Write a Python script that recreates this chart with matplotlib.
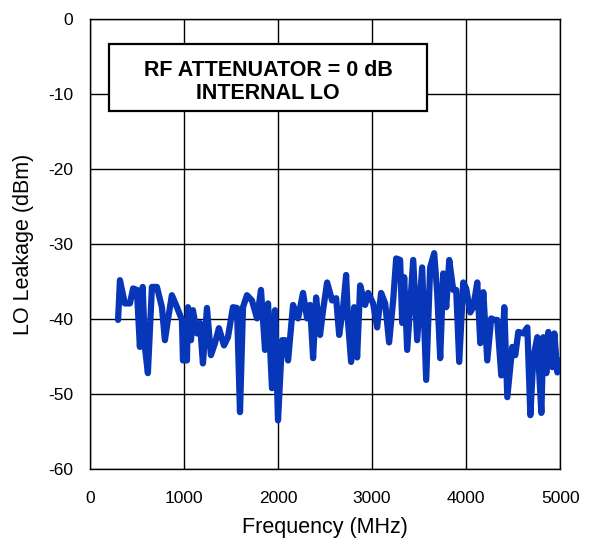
import matplotlib.pyplot as plt
from matplotlib.patches import Rectangle

plt.rcParams['font.family'] = ['Liberation Sans', 'DejaVu Sans']
plt.rcParams['axes.unicode_minus'] = False

# LO leakage trace
freq_mhz = [300, 320, 372, 426, 460, 500, 532, 562, 585, 617, 660, 713, 766, 798, 830,
            872, 926, 979, 990, 1032, 1043, 1075, 1096, 1138, 1170, 1202, 1245, 1287,
            1330, 1372, 1426, 1468, 1521, 1564, 1596, 1628, 1670, 1723, 1777, 1819,
            1862, 1894, 1936, 1968, 2000, 2043, 2075, 2107, 2160, 2213, 2266, 2309,
            2341, 2373, 2405, 2447, 2479, 2522, 2575, 2618, 2650, 2692, 2724, 2745,
            2777, 2809, 2841, 2873, 2926, 2958, 3011, 3054, 3096, 3139, 3181, 3224,
            3256, 3298, 3320, 3341, 3373, 3437, 3479, 3532, 3575, 3617, 3660, 3692,
            3724, 3756, 3788, 3820, 3862, 3894, 3926, 3969, 4000, 4043, 4075, 4118,
            4150, 4182, 4224, 4266, 4298, 4330, 4373, 4405, 4437, 4490, 4522, 4554,
            4607, 4650, 4682, 4714, 4756, 4799, 4820, 4852, 4873, 4916, 4937, 4969, 5000]
leak_dbm = [-40.1, -34.8, -37.9, -37.9, -35.9, -36.1, -43.7, -35.7, -43.7, -47.2, -35.7,
            -35.7, -38.4, -42.8, -40.1, -36.8, -38.4, -40.1, -45.5, -45.5, -38.4, -42.8,
            -38.8, -41.9, -40.5, -45.9, -38.5, -44.8, -43.2, -41.2, -43.5, -42.4, -38.4,
            -38.5, -52.4, -38.4, -36.8, -37.5, -39.9, -36.1, -44.1, -37.9, -49.2, -38.8,
            -53.5, -42.8, -42.8, -45.5, -38.1, -39.9, -36.5, -39.9, -38.1, -45.2, -37.1,
            -42.1, -38.8, -35.1, -37.5, -37.2, -42.1, -38.4, -34.1, -40.5, -45.7, -38.4,
            -45.1, -35.5, -38.1, -36.5, -37.9, -41.1, -36.5, -37.9, -43.1, -37.5, -31.9,
            -32.1, -40.5, -34.4, -44.1, -32.1, -42.8, -33.1, -48.1, -33.1, -31.2, -36.5,
            -45.2, -33.9, -38.4, -32.1, -36.1, -36.1, -45.7, -35.1, -35.9, -39.1, -38.4,
            -35.1, -43.2, -36.4, -45.5, -39.9, -40.1, -40.1, -47.5, -38.4, -50.4, -43.7,
            -44.8, -41.7, -41.9, -41.1, -52.8, -45.1, -42.4, -52.5, -42.4, -47.2, -41.7,
            -46.4, -41.9, -47.1, -45.5]

x_ticks = [0, 1000, 2000, 3000, 4000, 5000]
y_ticks = [0, -10, -20, -30, -40, -50, -60]

fig = plt.figure(figsize=(5.91, 5.5), dpi=100)
ax = fig.add_axes([0.152, 0.147, 0.796, 0.818])

ax.plot(freq_mhz, leak_dbm, color='#0836B8', lw=4.5, solid_joinstyle='round',
        solid_capstyle='round', zorder=3)

ax.set_xlim(0, 5000)
ax.set_ylim(-60, 0)
ax.set_xticks(x_ticks)
ax.set_yticks(y_ticks)
ax.tick_params(length=0, labelsize=12.5)
ax.tick_params(axis='x', pad=16)
ax.tick_params(axis='y', pad=12)
ax.grid(True, color='black', lw=1.0)
for s in ax.spines.values():
    s.set_color('black')
    s.set_linewidth(1.0)

ax.set_xlabel('Frequency (MHz)', fontsize=15.5, labelpad=8)
ax.set_ylabel('LO Leakage (dBm)', fontsize=15.5, labelpad=10)

# annotation box
ax.add_patch(Rectangle((202, -12.27), 3384, 8.94, facecolor='white', edgecolor='black',
                       lw=1.6, zorder=4))
ax.text(1894, -8.35, 'RF ATTENUATOR = 0 dB\nINTERNAL LO', ha='center', va='center',
        fontsize=15.5, fontweight='bold', linespacing=1.1, zorder=5)

fig.savefig('out.png', dpi=100)
